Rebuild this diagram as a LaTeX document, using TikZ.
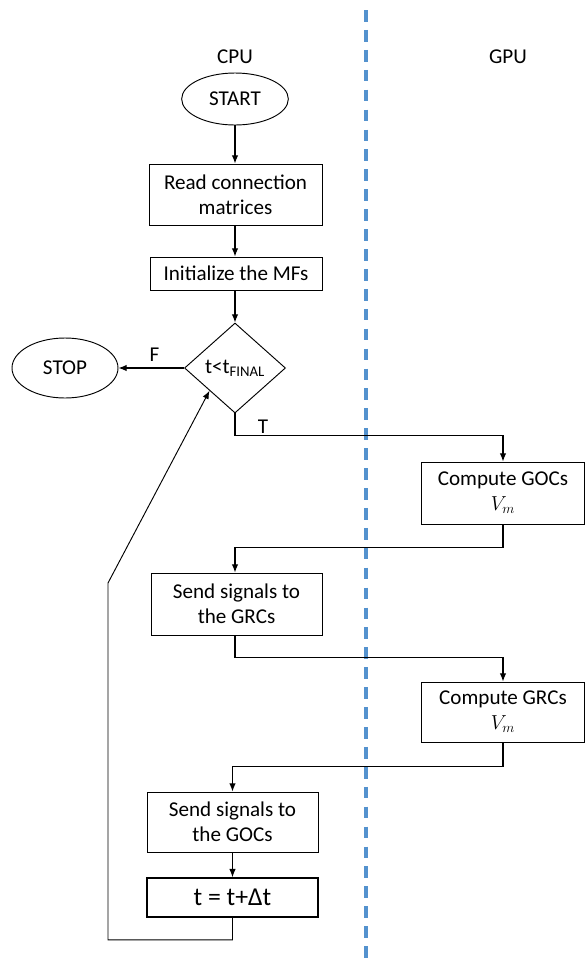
\documentclass[tikz,border=0pt]{standalone}
\usepackage{fontspec}
\setmainfont{Carlito}
\usetikzlibrary{shapes.geometric,arrows.meta}

\tikzset{>={Latex[length=7pt,width=5.5pt]}}
\definecolor{lane}{RGB}{84,146,206}
\newcommand{\Vm}{$V_m$}
\tikzset{
  box/.style={draw,line width=0.8pt,align=center,inner sep=0pt},
  term/.style={draw,ellipse,line width=0.8pt,inner sep=0pt,minimum width=3.2cm},
  flow/.style={->,line width=1pt},
}

\begin{document}
\begin{tikzpicture}[x=0.03cm,y=-0.03cm,font=\fontsize{18}{21.5}\selectfont]
  \useasboundingbox (0,0) rectangle (585,966);
  % lanes
  \draw[lane,line width=2.8pt,dash pattern=on 10pt off 7pt] (366,10) -- (366,966);
  \node (cpu) at (235,57) {CPU};
  \node (gpu) at (508,57) {GPU};

  % host side
  \node[term,minimum height=1.56cm] (start) at (235,99) {START};
  \node[box,minimum width=5.19cm,minimum height=1.83cm] (read) at (235.5,194.5) {Read connection\\matrices};
  \node[box,minimum width=5.16cm,minimum height=0.99cm] (init) at (236,273.5) {Initialize the MFs};
  \node[draw,diamond,line width=0.8pt,inner sep=0pt,minimum width=3.03cm,minimum height=2.7cm] (dec) at (235,368) {t<t\textsubscript{FINAL}};
  \node[term,minimum width=3.18cm,minimum height=1.8cm] (stop) at (65,368) {STOP};
  \node[box,minimum width=5.13cm,minimum height=1.86cm] (sgrc) at (236.5,604) {Send signals to\\the GRCs};
  \node[box,minimum width=5.13cm,minimum height=1.8cm] (sgoc) at (232.5,822) {Send signals to\\the GOCs};
  \node[box,line width=1.4pt,minimum width=5.13cm,minimum height=1.17cm,font=\fontsize{22}{26}\selectfont] (tstep) at (232.5,897.5) {t = t+Δt};

  % device side
  \node[box,minimum width=4.89cm,minimum height=1.86cm] (gocs) at (503,493) {Compute GOCs\\\Vm};
  \node[box,minimum width=4.89cm,minimum height=1.8cm] (grcs) at (503,712) {Compute GRCs\\\Vm};

  \draw[flow] (start) -- (start |- read.north);
  \draw[flow] (start |- read.south) -- (start |- init.north);
  \draw[flow] (start |- init.south) -- (dec);
  \draw[flow] (dec) -- (stop) node[pos=0.45,above=2pt] {F};
  \coordinate (tlbl) at (263,427);
  \node (t) at (tlbl) {T};
  \draw[flow] (dec.south) -- ++(0,22) -| (gocs.north);
  \draw[flow] (gocs.south) -- ++(0,23) -| (dec |- sgrc.north);
  \draw[flow] (dec |- sgrc.south) -- ++(0,22) -| (grcs.north);
  \draw[flow] (grcs.south) -- ++(0,24) -| (sgoc.north);
  \draw[flow,line width=0.8pt] (sgoc) -- (tstep);

  % loop back
  \coordinate (back) at (108,583);
  \draw[flow,line width=0.8pt] (tstep.south) -- ++(0,22) -| (back) -- (dec.south west);
\end{tikzpicture}
\end{document}
